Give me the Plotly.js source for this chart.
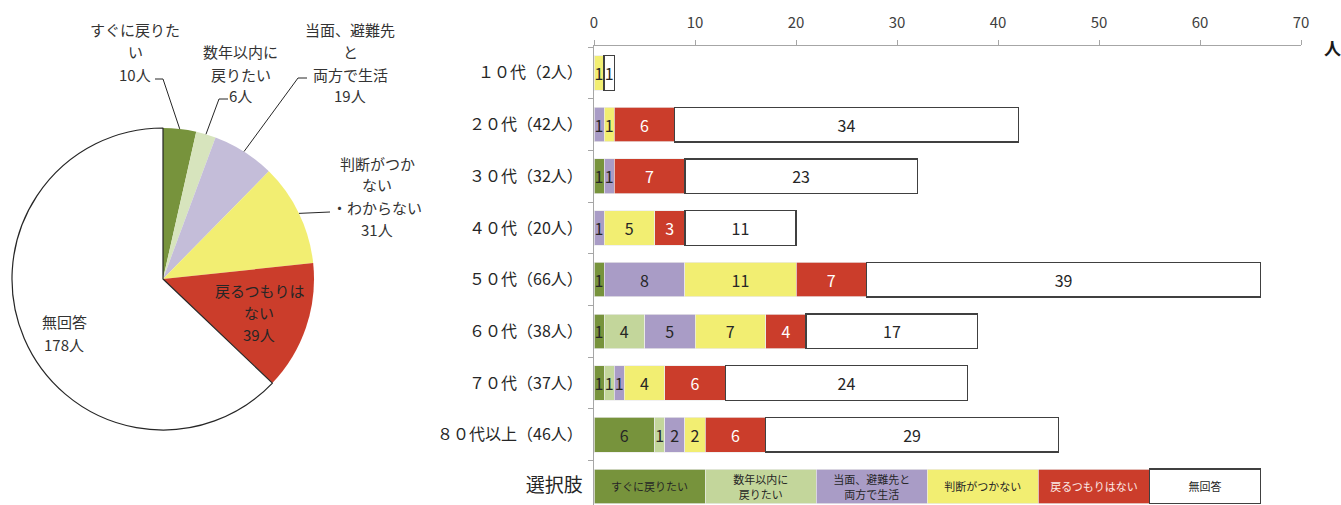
<!DOCTYPE html>
<html>
<head>
<meta charset="utf-8">
<script src="https://cdn.plot.ly/plotly-3.0.1.min.js"></script>
<style>html,body{margin:0;padding:0;background:#fff;}#chart{width:1341px;height:505px;}</style>
</head>
<body>
<div id="chart"></div>
<script>
// ---- data ----
const ageLabels = ['１０代（2人）','２０代（42人）','３０代（32人）','４０代（20人）','５０代（66人）','６０代（38人）','７０代（37人）','８０代以上（46人）'];
const legendRowLabel = '選択肢';
const choiceNames = ['すぐに戻りたい','数年以内に戻りたい','当面、避難先と両方で生活','判断がつかない','戻るつもりはない','無回答'];
const legendRowText = ['すぐに戻りたい','数年以内に<br>戻りたい','当面、避難先と<br>両方で生活','判断がつかない','戻るつもりはない','無回答'];
const soonBack   = [0,0,1,0,1,1,1,6];
const fewYears   = [0,0,0,0,0,4,1,1];
const bothPlaces = [0,1,1,1,8,5,1,2];
const undecided  = [1,1,0,5,11,7,4,2];
const notReturn  = [0,6,7,3,7,4,6,6];
const noAnswer   = [1,34,23,11,39,17,24,29];
const legendRowSpan = 11;
const pieValues = [10,6,19,31,39,178];
const pieLabelLines = [['すぐに戻りた','い'],['数年以内に','戻りたい'],['当面、避難先','と','両方で生活'],['判断がつか','ない','・わからない'],['戻るつもりは','ない'],['無回答']];
const unitLabel = '人';

// ---- styles ----
const barColors = ['#77933C','#C3D69B','#A99CC6','#F2EE72','#CB3D2B','#FFFFFF'];
const pieColors = ['#77933C','#D7E4BD','#C4BDD9','#F2EE72','#CB3D2B','#FFFFFF'];
const FONT = '"Noto Sans CJK JP", "Noto Sans", sans-serif';
const W = 1341, H = 505, mL = 0, mR = 40, mT = 46, mB = 0;
const pw = W - mL - mR, ph = H - mT - mB;
const px = x => (x - mL) / pw;
const py = y => (H - mB - y) / ph;

const series = [soonBack, fewYears, bothPlaces, undecided, notReturn, noAnswer];
const categories = ageLabels.concat(['<span style="font-size:19px">' + legendRowLabel + '</span>']);

const traces = series.map((s, i) => {
  const isRed = i === 4;
  const isWhite = i === 5;
  return {
    type: 'bar', orientation: 'h', name: choiceNames[i],
    y: categories,
    x: s.map(v => v > 0 ? v : null).concat([legendRowSpan]),
    text: s.map(v => v > 0 ? String(v) : '').concat([legendRowText[i]]),
    textposition: 'inside', insidetextanchor: 'middle', textangle: 0,
    constraintext: 'none', cliponaxis: false,
    textfont: {
      family: FONT,
      size: s.map(() => 16).concat([11]),
      color: s.map(() => isRed ? '#FFFFFF' : '#262626').concat([isRed ? '#FBE9E6' : '#262626'])
    },
    marker: {
      color: barColors[i],
      line: { color: isWhite ? '#404040' : 'rgba(235,235,235,0.9)', width: isWhite ? 1.3 : 0.8 }
    },
    hoverinfo: 'skip'
  };
});

// pie geometry (pixels)
const pieCx = 163, pieCy = 279, pieR = 151;
traces.push({
  type: 'pie', values: pieValues, labels: choiceNames, sort: false,
  direction: 'clockwise', rotation: 0, textinfo: 'none', hoverinfo: 'skip',
  marker: { colors: pieColors, line: { color: pieColors.map((c,i) => i === 5 ? '#262626' : 'rgba(0,0,0,0)'), width: pieColors.map((c,i) => i === 5 ? 1.2 : 0) } },
  domain: { x: [px(pieCx - pieR), px(pieCx + pieR)], y: [py(pieCy + pieR), py(pieCy - pieR)] },
  showlegend: false
});

// pie label placement (layout only)
const labelPos = [
  {x:135, y:[29,51,74], color:'#333333'},
  {x:241, y:[52,74,95], color:'#333333'},
  {x:350, y:[29,52,74,95], color:'#333333'},
  {x:377, y:[163,185,208,230], color:'#333333'},
  {x:259, y:[290,312,334], color:'#262626'},
  {x:64,  y:[321,344], color:'#333333'}
];
const annotations = [];
pieLabelLines.forEach((lines, i) => {
  const all = lines.concat([pieValues[i] + '人']);
  all.forEach((t, j) => {
    annotations.push({xref:'paper', yref:'paper', x: px(labelPos[i].x), y: py(labelPos[i].y[j]),
      text: t, showarrow: false, xanchor: 'center', yanchor: 'middle',
      font: {family: FONT, size: 15, color: labelPos[i].color}});
  });
});
annotations.push({xref:'paper', yref:'paper', x:1, y:1, xshift:31, yshift:-1, text: unitLabel, showarrow:false,
  xanchor:'center', yanchor:'middle', font:{family:FONT, size:17, color:'#1a1a1a', weight:'bold'}});

// leader lines: end at slice midpoint on the rim
const total = pieValues.reduce((a,b)=>a+b,0);
let cum = 0;
const mids = pieValues.map(v => { const m = (cum + v/2) / total * 2 * Math.PI; cum += v; return m; });
const rim = i => [pieCx + pieR * Math.sin(mids[i]), pieCy - pieR * Math.cos(mids[i])];
const leaderStarts = [
  [[155,79],[163,79]],
  [[228,99],[219,99]],
  [[307,78],[298,78]],
  [[330,212]]
];
const shapes = leaderStarts.map((pts, i) => {
  const all = pts.concat([rim(i)]);
  const path = all.map((p, k) => (k ? 'L' : 'M') + px(p[0]) + ',' + py(p[1])).join(' ');
  return {type:'path', xref:'paper', yref:'paper', path: path, line:{color:'#262626', width:1}};
});

const layout = {
  width: W, height: H,
  margin: {l:mL, r:mR, t:mT, b:mB, pad:0},
  paper_bgcolor: '#fff', plot_bgcolor: 'rgba(0,0,0,0)',
  barmode: 'stack', bargap: 0.33, showlegend: false,
  font: {family: FONT, color:'#262626'},
  xaxis: {domain:[px(594), 1], side:'top', range:[0,70], dtick:10, tick0:0,
    ticks:'outside', ticklen:5, tickcolor:'#a6a6a6', showline:true, linecolor:'#a6a6a6', linewidth:1,
    showgrid:false, zeroline:false, tickfont:{family:FONT, size:15, color:'#404040'}, ticklabelstandoff:6, fixedrange:true},
  yaxis: {type:'category', range:[8.36,-0.52], showline:true, linecolor:'#a6a6a6', linewidth:1,
    ticks:'outside', tickson:'boundaries', ticklen:5, tickcolor:'#a6a6a6', showgrid:false, zeroline:false,
    tickfont:{family:FONT, size:16, color:'#262626'}, ticklabelstandoff:7, fixedrange:true},
  annotations: annotations,
  shapes: shapes
};

Plotly.newPlot('chart', traces, layout, {displayModeBar:false, staticPlot:true});
</script>
</body>
</html>
